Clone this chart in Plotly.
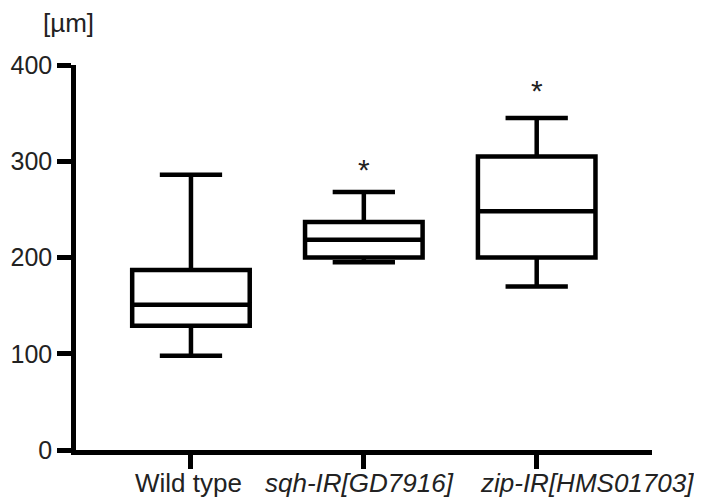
import plotly.graph_objects as go

categories = ["Wild type", "sqh-IR[GD7916]", "zip-IR[HMS01703]"]
tick_labels = ["Wild type", "<i>sqh-IR[GD7916]</i>", "<i>zip-IR[HMS01703]</i>"]
label_xshift = [-2, -4, 50]
lower_whisker = [98, 195, 170]
q1 = [129, 200, 200]
median = [151, 218.5, 248]
q3 = [187, 237, 305]
upper_whisker = [286, 268, 345]
star_y = [None, 299, 381]
y_ticks = [0, 100, 200, 300, 400]

FONT = "Liberation Sans, Arial, sans-serif"

fig = go.Figure()
for i, c in enumerate(categories):
    fig.add_trace(go.Box(
        x=[i], q1=[q1[i]], median=[median[i]], q3=[q3[i]],
        lowerfence=[lower_whisker[i]], upperfence=[upper_whisker[i]],
        width=0.68, whiskerwidth=0.53,
        line=dict(color="black", width=4.5),
        fillcolor="white", showlegend=False, hoverinfo="skip",
    ))

for i, s in enumerate(star_y):
    if s is not None:
        fig.add_annotation(x=i, y=s, xref="x", yref="y", text="*", showarrow=False,
                           font=dict(family=FONT, size=30, color="#222"),
                           yanchor="middle", xanchor="center", yshift=-7)

# category labels as annotations (the last one sits offset to the right, as in the reference)
for i, t in enumerate(tick_labels):
    fig.add_annotation(x=i, y=0, xref="x", yref="y", text=t, showarrow=False,
                       xanchor="center", yanchor="top", yshift=-16, xshift=label_xshift[i],
                       font=dict(family=FONT, size=26, color="#222"))

fig.add_annotation(x=-0.059, y=1.11, xref="paper", yref="paper", text="[µm]",
                   showarrow=False, xanchor="left", yanchor="middle", borderpad=0,
                   font=dict(family=FONT, size=26, color="#222"))

# page body has an 8px margin, so the figure is 694x494 placed at (8, 8)
fig.update_layout(
    width=694, height=494,
    margin=dict(l=68, r=50, t=57, b=52),
    plot_bgcolor="white", paper_bgcolor="white",
    font=dict(family=FONT, color="#222"),
)
fig.update_xaxes(
    range=[-0.665, 2.667], tickmode="array", tickvals=[0, 1, 2], ticktext=["", "", ""],
    showline=True, linecolor="black", linewidth=4.5, ticks="outside", ticklen=14,
    tickwidth=4.5, tickcolor="black", showgrid=False, zeroline=False,
    tickangle=0, automargin=False,
)
fig.update_yaxes(
    range=[0, 400], tickmode="array", tickvals=y_ticks,
    showline=True, linecolor="black", linewidth=4.5, ticks="outside", ticklen=14,
    tickwidth=4.5, tickcolor="black", showgrid=False, zeroline=False,
    automargin=False,
    tickfont=dict(family=FONT, size=25, color="#222"),
)

fig.write_html("out.html")
